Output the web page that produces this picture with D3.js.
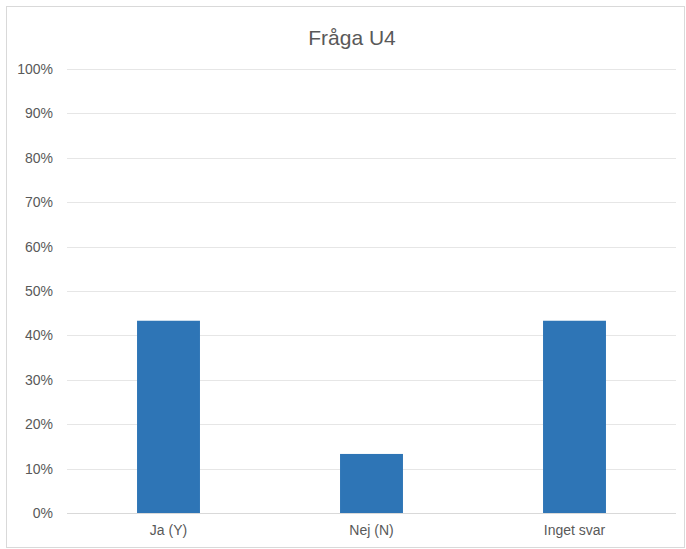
<!DOCTYPE html>
<html>
<head>
<meta charset="utf-8">
<script src="https://cdn.jsdelivr.net/npm/d3@7"></script>
<style>
  html, body { margin: 0; padding: 0; background: #fff; }
  svg { display: block; font-family: "Liberation Sans", Arial, sans-serif; }
</style>
</head>
<body>
<svg id="chart" width="686" height="549"></svg>
<script>
// Survey answers for question U4 (share of respondents)
const categories = ["Ja (Y)", "Nej (N)", "Inget svar"];
const values = [0.433, 0.133, 0.433];
const yTicks = [0, 0.1, 0.2, 0.3, 0.4, 0.5, 0.6, 0.7, 0.8, 0.9, 1.0];
const title = "Fråga U4";

const svg = d3.select("#chart");
const W = 686, H = 549;
const plot = { left: 67, right: 676, top: 69, bottom: 513 };

// outer frame of the chart area
svg.append("rect")
  .attr("x", 6.5).attr("y", 6.5)
  .attr("width", W - 8).attr("height", H - 8)
  .attr("fill", "#fff")
  .attr("stroke", "#d9d9d9")
  .attr("stroke-width", 1);

const x = d3.scaleBand()
  .domain(categories)
  .range([plot.left, plot.right])
  .paddingInner(0.69)
  .paddingOuter(0.345);

const y = d3.scaleLinear()
  .domain([0, 1])
  .range([plot.bottom, plot.top]);

// horizontal gridlines
svg.append("g")
  .selectAll("line")
  .data(yTicks)
  .join("line")
  .attr("x1", plot.left).attr("x2", plot.right)
  .attr("y1", d => Math.round(y(d)) + 0.5)
  .attr("y2", d => Math.round(y(d)) + 0.5)
  .attr("stroke", d => d === 0 ? "#d9d9d9" : "#e6e6e6")
  .attr("stroke-width", 1);

// y-axis labels
const yAxis = d3.axisLeft(y)
  .tickValues(yTicks)
  .tickFormat(d3.format(".0%"))
  .tickSize(0)
  .tickPadding(0);
const yg = svg.append("g")
  .attr("transform", `translate(${plot.left - 14},0)`)
  .call(yAxis);
yg.select(".domain").remove();
yg.selectAll("text")
  .attr("fill", "#595959")
  .attr("font-size", 14)
  .attr("font-family", "Liberation Sans, Arial, sans-serif");

// bars
svg.append("g")
  .selectAll("rect")
  .data(categories.map((c, i) => ({ c, v: values[i] })))
  .join("rect")
  .attr("x", d => x(d.c))
  .attr("width", x.bandwidth())
  .attr("y", d => y(d.v))
  .attr("height", d => y(0) - y(d.v))
  .attr("fill", "#2e75b6");

// category labels
const xAxis = d3.axisBottom(x).tickSize(0).tickPadding(0);
const xg = svg.append("g")
  .attr("transform", `translate(0,${plot.bottom + 12})`)
  .call(xAxis);
xg.select(".domain").remove();
xg.selectAll("text")
  .attr("fill", "#595959")
  .attr("font-size", 14)
  .attr("font-family", "Liberation Sans, Arial, sans-serif");

// title
svg.append("text")
  .attr("x", 352)
  .attr("y", 45)
  .attr("text-anchor", "middle")
  .attr("fill", "#595959")
  .attr("font-size", 21)
  .text(title);
</script>
</body>
</html>
